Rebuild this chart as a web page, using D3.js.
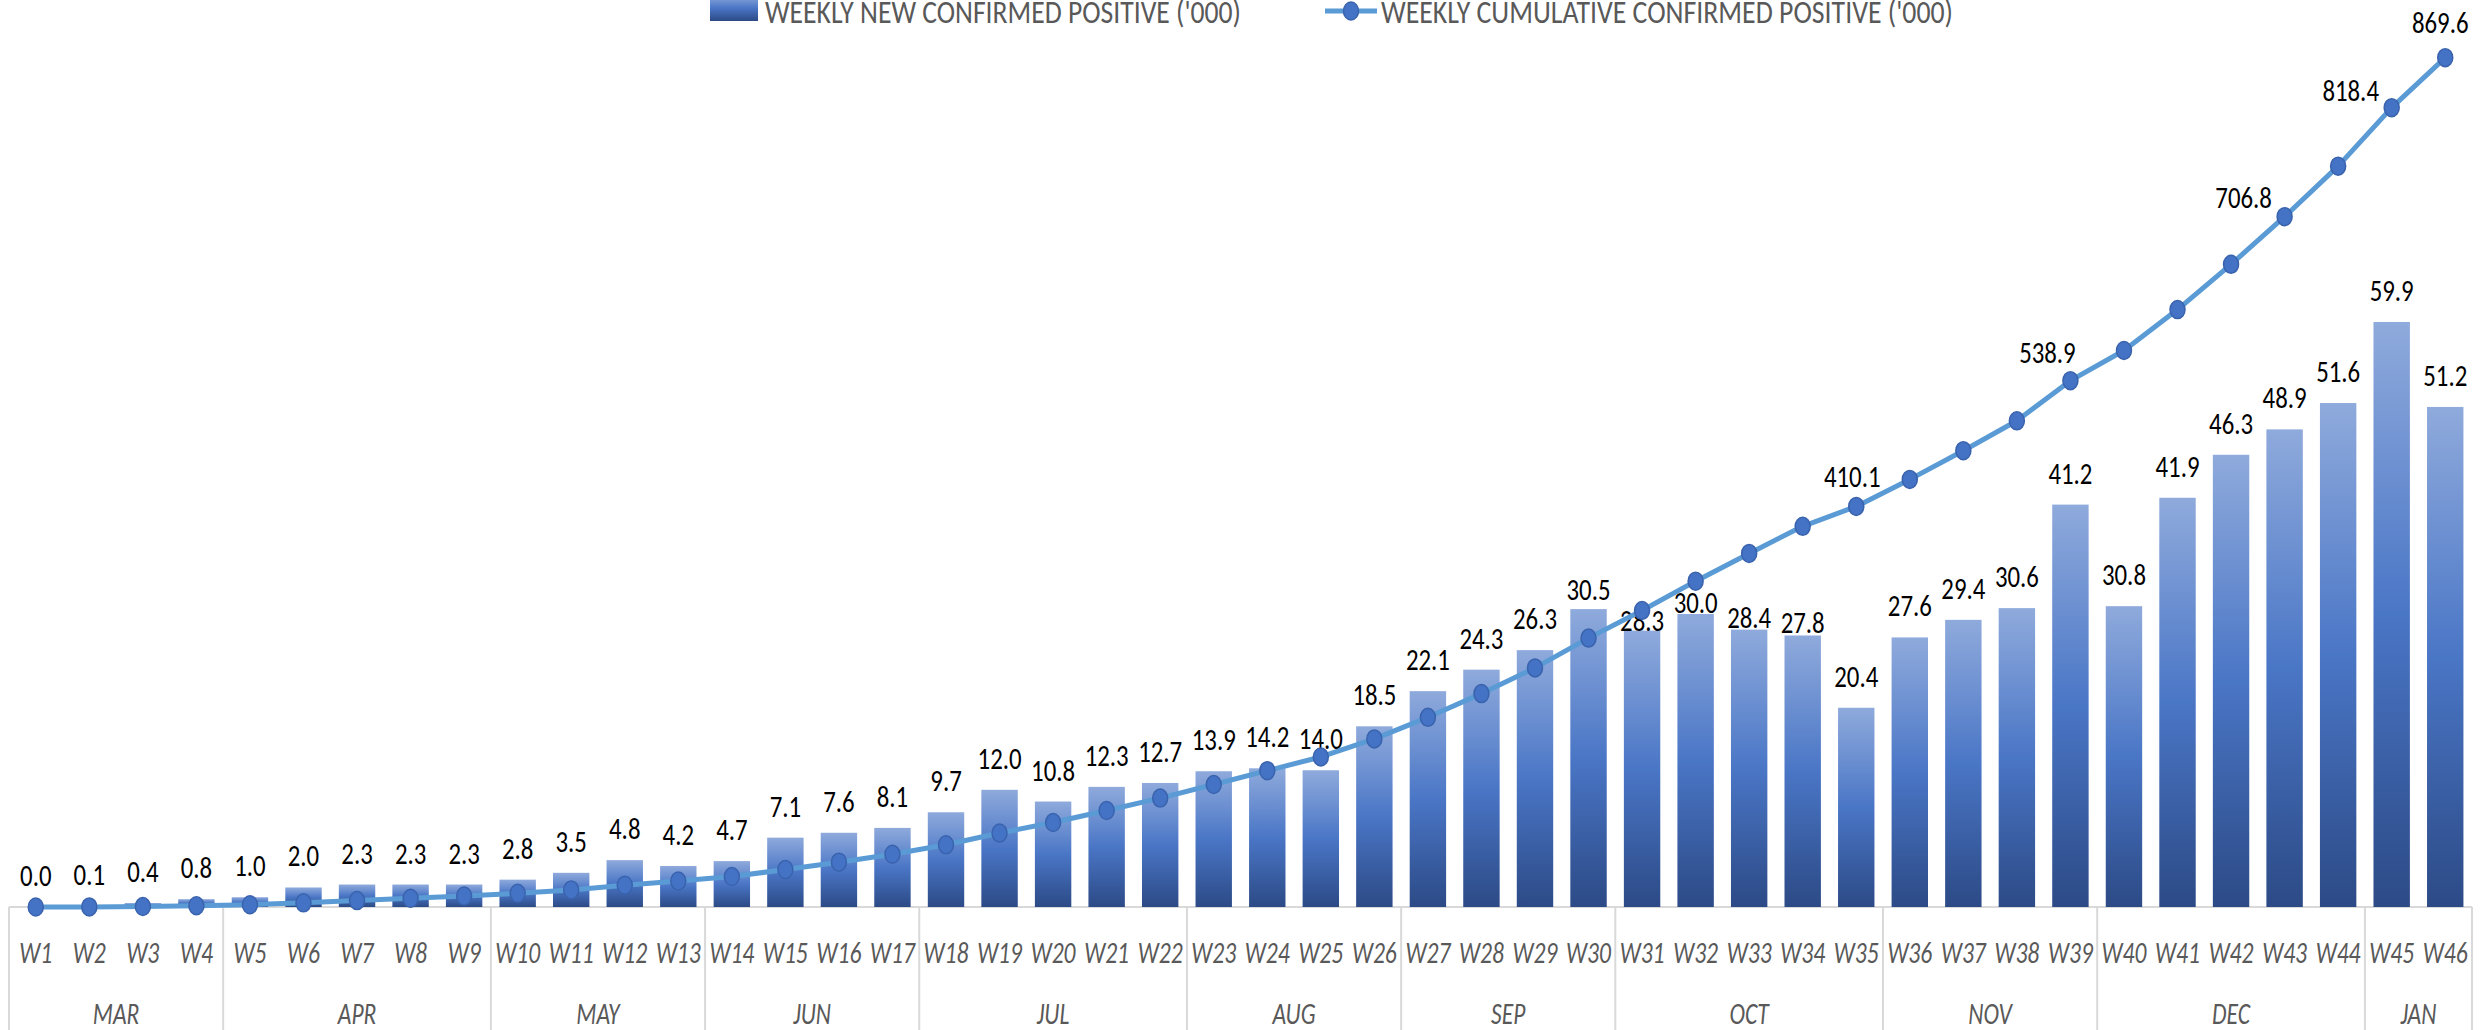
<!DOCTYPE html>
<html>
<head>
<meta charset="utf-8">
<script src="https://cdn.jsdelivr.net/npm/d3@7"></script>
<style>
    body { margin: 0; background: #fff; overflow: hidden; }
    text { font-family: Calibri, Carlito, 'Liberation Sans', sans-serif; }
</style>
</head>
<body>
<svg id="mainFrame"></svg>
<script>
// data
const weeks = ['W1', 'W2', 'W3', 'W4', 'W5', 'W6', 'W7', 'W8', 'W9', 'W10',
    'W11', 'W12', 'W13', 'W14', 'W15', 'W16', 'W17', 'W18', 'W19', 'W20',
    'W21', 'W22', 'W23', 'W24', 'W25', 'W26', 'W27', 'W28', 'W29', 'W30',
    'W31', 'W32', 'W33', 'W34', 'W35', 'W36', 'W37', 'W38', 'W39', 'W40',
    'W41', 'W42', 'W43', 'W44', 'W45', 'W46']
const months = ['MAR', 'APR', 'MAY', 'JUN', 'JUL', 'AUG', 'SEP', 'OCT', 'NOV', 'DEC', 'JAN']
const monthFirstWeek = ['W1', 'W5', 'W10', 'W14', 'W18', 'W23', 'W27', 'W31', 'W36', 'W40', 'W45']
const weeklyNew = [0.0, 0.1, 0.4, 0.8, 1.0, 2.0, 2.3, 2.3, 2.3, 2.8,
    3.5, 4.8, 4.2, 4.7, 7.1, 7.6, 8.1, 9.7, 12.0, 10.8,
    12.3, 12.7, 13.9, 14.2, 14.0, 18.5, 22.1, 24.3, 26.3, 30.5,
    28.3, 30.0, 28.4, 27.8, 20.4, 27.6, 29.4, 30.6, 41.2, 30.8,
    41.9, 46.3, 48.9, 51.6, 59.9, 51.2]
const weeklyCumulative = [0.0, 0.1, 0.5, 1.3, 2.3, 4.3, 6.6, 8.9, 11.2, 14.0,
    17.5, 22.3, 26.5, 31.2, 38.3, 45.9, 54.0, 63.7, 75.7, 86.5,
    98.8, 111.5, 125.4, 139.6, 153.6, 172.1, 194.2, 218.5, 244.8, 275.3,
    303.6, 333.6, 362.0, 389.8, 410.1, 437.8, 467.2, 497.8, 538.9, 569.8,
    611.7, 658.0, 706.8, 758.5, 818.4, 869.6]
const cumulativeLabelWeeks = ['W35', 'W39', 'W43', 'W45', 'W46']
const legendLabels = ["WEEKLY NEW CONFIRMED POSITIVE ('000)", "WEEKLY CUMULATIVE CONFIRMED POSITIVE ('000)"]

// layout tweaks for labels that were moved by hand in the original
const barLabelNudge = {W30: 12, W31: 21, W32: 20, W33: 19, W34: 19}
const lineLabelOffset = {
    W35: [-4, -19], W39: [-23, -18], W43: [-41, -9], W45: [-41, -7], W46: [-5, -25]
}

const width = 2481
const height = 1030
const baseY = 907
const topY = baseY - 976.7

const svg = d3.select('#mainFrame')
    .attr('width', width)
    .attr('height', height)

const defs = svg.append('defs')
const grad = defs.append('linearGradient')
    .attr('id', 'barGrad')
    .attr('x1', 0).attr('y1', 0).attr('x2', 0).attr('y2', 1)
grad.append('stop').attr('offset', '0%').attr('stop-color', '#8FAADC')
grad.append('stop').attr('offset', '50%').attr('stop-color', '#4A76C6')
grad.append('stop').attr('offset', '100%').attr('stop-color', '#2C4A86')

const x = d3.scaleBand()
    .domain(weeks)
    .range([9, 2472])
    .paddingInner(0.32)
    .paddingOuter(0.16)

const yNew = d3.scaleLinear().domain([0, 100]).range([baseY, topY])
const yCum = d3.scaleLinear().domain([0, 1000]).range([baseY, topY])

const cx = w => x(w) + x.bandwidth() / 2
const edge = w => x(w) - x.step() * x.paddingInner() / 2

const data = weeks.map((w, i) => ({week: w, value: weeklyNew[i], cum: weeklyCumulative[i]}))

// category axis: baseline, month separators, week and month labels
const axis = svg.append('g')
axis.append('line')
    .attr('x1', x.range()[0]).attr('x2', x.range()[1])
    .attr('y1', baseY).attr('y2', baseY)
    .attr('stroke', '#D9D9D9').attr('stroke-width', 2)

const seps = monthFirstWeek.map(edge).concat([x.range()[1]])
axis.selectAll('line.sep')
    .data(seps)
    .join('line')
    .attr('class', 'sep')
    .attr('x1', d => d).attr('x2', d => d)
    .attr('y1', baseY).attr('y2', height)
    .attr('stroke', '#D9D9D9').attr('stroke-width', 2)

axis.selectAll('text.week')
    .data(weeks)
    .join('text')
    .attr('class', 'week')
    .attr('transform', d => `translate(${cx(d)},963) scale(0.76,1)`)
    .attr('text-anchor', 'middle')
    .attr('font-size', 31)
    .attr('font-style', 'italic')
    .attr('fill', '#595959')
    .text(d => d)

axis.selectAll('text.month')
    .data(months)
    .join('text')
    .attr('class', 'month')
    .attr('transform', (d, i) => `translate(${(seps[i] + seps[i + 1]) / 2},1024) scale(0.76,1)`)
    .attr('text-anchor', 'middle')
    .attr('font-size', 31)
    .attr('font-style', 'italic')
    .attr('fill', '#595959')
    .text(d => d)

// bars
svg.append('g')
    .selectAll('rect')
    .data(data)
    .join('rect')
    .attr('x', d => x(d.week))
    .attr('y', d => yNew(d.value))
    .attr('width', x.bandwidth())
    .attr('height', d => baseY - yNew(d.value))
    .attr('fill', 'url(#barGrad)')

svg.append('g')
    .selectAll('text')
    .data(data)
    .join('text')
    .attr('transform', d => `translate(${cx(d.week)},${yNew(d.value) - 21 + (barLabelNudge[d.week] || 0)}) scale(0.8,1)`)
    .attr('text-anchor', 'middle')
    .attr('font-size', 31)
    .attr('fill', '#000')
    .text(d => d.value.toFixed(1))

// cumulative line
const line = d3.line()
    .x(d => cx(d.week))
    .y(d => yCum(d.cum))

svg.append('path')
    .datum(data)
    .attr('d', line)
    .attr('fill', 'none')
    .attr('stroke', '#5B9BD5')
    .attr('stroke-width', 5)
    .attr('stroke-linejoin', 'round')

svg.append('g')
    .selectAll('ellipse')
    .data(data)
    .join('ellipse')
    .attr('cx', d => cx(d.week))
    .attr('cy', d => yCum(d.cum))
    .attr('rx', 7.5)
    .attr('ry', 9)
    .attr('fill', '#4472C4')
    .attr('stroke', '#3A63AD')
    .attr('stroke-width', 1.5)

svg.append('g')
    .selectAll('text')
    .data(data.filter(d => cumulativeLabelWeeks.includes(d.week)))
    .join('text')
    .attr('transform', d => {
        const off = lineLabelOffset[d.week]
        return `translate(${cx(d.week) + off[0]},${yCum(d.cum) + off[1]}) scale(0.8,1)`
    })
    .attr('text-anchor', 'middle')
    .attr('font-size', 31)
    .attr('fill', '#000')
    .text(d => d.cum.toFixed(1))

// legend (cropped at the top, as in the original)
const legend = svg.append('g')
legend.append('rect')
    .attr('x', 710).attr('y', -5)
    .attr('width', 48).attr('height', 26)
    .attr('fill', 'url(#barGrad)')
legend.append('text')
    .attr('x', 765).attr('y', 23)
    .attr('font-size', 32)
    .attr('fill', '#595959')
    .attr('textLength', 476)
    .attr('lengthAdjust', 'spacingAndGlyphs')
    .text(legendLabels[0])

legend.append('line')
    .attr('x1', 1325).attr('x2', 1377)
    .attr('y1', 11).attr('y2', 11)
    .attr('stroke', '#5B9BD5').attr('stroke-width', 5)
legend.append('ellipse')
    .attr('cx', 1351).attr('cy', 11)
    .attr('rx', 7.5).attr('ry', 9)
    .attr('fill', '#4472C4')
    .attr('stroke', '#3A63AD').attr('stroke-width', 1.5)
legend.append('text')
    .attr('x', 1381).attr('y', 23)
    .attr('font-size', 32)
    .attr('fill', '#595959')
    .attr('textLength', 572)
    .attr('lengthAdjust', 'spacingAndGlyphs')
    .text(legendLabels[1])
</script>
</body>
</html>
